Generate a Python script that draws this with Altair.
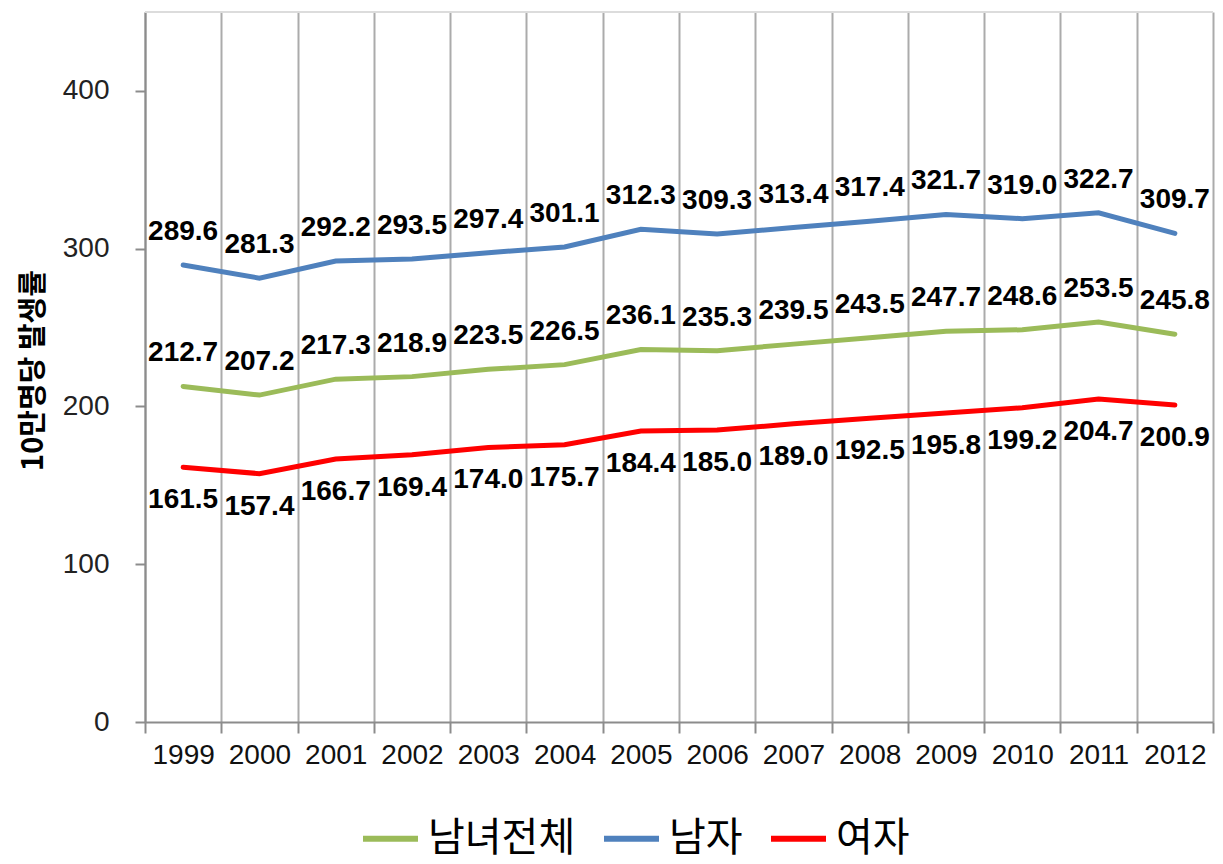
import altair as alt
import pandas as pd

years = [str(y) for y in range(1999, 2013)]
total = [212.7, 207.2, 217.3, 218.9, 223.5, 226.5, 236.1, 235.3, 239.5, 243.5, 247.7, 248.6, 253.5, 245.8]
male = [289.6, 281.3, 292.2, 293.5, 297.4, 301.1, 312.3, 309.3, 313.4, 317.4, 321.7, 319.0, 322.7, 309.7]
female = [161.5, 157.4, 166.7, 169.4, 174.0, 175.7, 184.4, 185.0, 189.0, 192.5, 195.8, 199.2, 204.7, 200.9]
series_names = ["남녀전체", "남자", "여자"]
series_colors = ["#9BBB59", "#4F81BD", "#FF0000"]
y_ticks = [0, 100, 200, 300, 400]

rows = []
for name, vals in zip(series_names, [total, male, female]):
    for yr, v in zip(years, vals):
        rows.append({"year": yr, "value": v, "series": name})
df = pd.DataFrame(rows)

x_enc = alt.X("year:O", sort=years,
              scale=alt.Scale(type="band", paddingInner=0, paddingOuter=0),
              axis=alt.Axis(title=None, labelAngle=0, tickBand="extent", grid=True,
                            gridColor="#ababab", gridWidth=2,
                            domainColor="#8c8c8c", domainWidth=2,
                            tickColor="#8c8c8c", tickWidth=2, tickSize=11,
                            labelFont="Liberation Sans", labelFontSize=28,
                            labelColor="#111", labelPadding=8))
y_scale = alt.Scale(domain=[0, 450], nice=False)

base = alt.Chart(df)

lines = base.mark_line(strokeWidth=5, strokeCap="round").encode(
    x=x_enc,
    y=alt.Y("value:Q", scale=y_scale,
            axis=alt.Axis(values=y_ticks, grid=False, title="10만명당 발생률",
                          titleFont="Noto Sans CJK KR", titleFontSize=29, titleFontWeight="bold",
                          titleColor="#000", titleAngle=-90, titleX=-112, titleY=358,
                          titleAlign="center", titleBaseline="middle",
                          domainColor="#8c8c8c", domainWidth=2,
                          tickColor="#8c8c8c", tickWidth=2, tickSize=10,
                          labelFont="Liberation Sans", labelFontSize=28,
                          labelColor="#222", labelPadding=26)),
    color=alt.Color("series:N",
                    scale=alt.Scale(domain=series_names, range=series_colors),
                    sort=series_names,
                    legend=alt.Legend(title=None, orient="none", direction="horizontal",
                                      legendX=215, legendY=796,
                                      symbolType="stroke", symbolSize=3025, symbolStrokeWidth=6,
                                      labelFont="Noto Sans CJK KR", labelFontSize=40,
                                      labelColor="#000", labelOffset=7, columnPadding=16)),
)

def labels(names, dy):
    return base.transform_filter(
        alt.FieldOneOfPredicate(field="series", oneOf=names)
    ).mark_text(dy=dy, font="Liberation Sans", fontSize=28, fontWeight="bold",
                color="#000").encode(
        x=alt.X("year:O", sort=years),
        y=alt.Y("value:Q", scale=y_scale),
        text=alt.Text("value:Q", format=".1f"),
    )

top_rule = alt.Chart(df).mark_rule(color="#dcdcdc", strokeWidth=2).encode(y=alt.value(0))

chart = alt.layer(top_rule, lines, labels(["남녀전체", "남자"], -33), labels(["여자"], 33)).properties(
    width=1068, height=710,
    autosize=alt.AutoSizeParams(type="none"),
    padding={"left": 137, "top": 4, "right": 2, "bottom": 140},
).configure_view(stroke=None)

chart.save("out.html", embed_options={"renderer": "svg", "actions": False})
